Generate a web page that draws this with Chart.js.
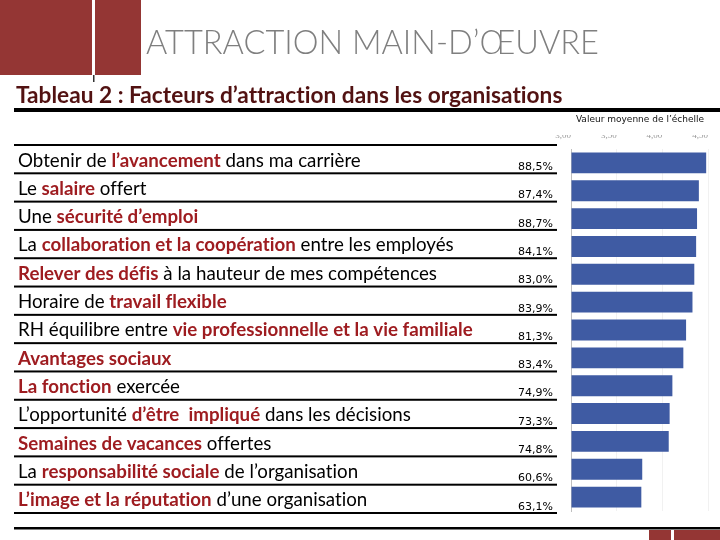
<!DOCTYPE html>
<html><head><meta charset="utf-8">
<script src="https://cdn.jsdelivr.net/npm/chart.js@4"></script>
<style>html,body{margin:0;padding:0;background:#fff;}#wrap{position:relative;width:720px;height:540px;}</style>
</head><body><div id="wrap"><canvas id="c"></canvas></div>
<script>
const pageTitle = "ATTRACTION MAIN-D’ŒUVRE";
const tableTitle = "Tableau 2 : Facteurs d’attraction dans les organisations";
const scaleTitle = "Valeur moyenne de l’échelle";
// label segments: [text, emphasised]
const categoryParts = [
  [["Obtenir de ",0],["l’avancement",1],[" dans ma carrière",0]],
  [["Le ",0],["salaire",1],[" offert",0]],
  [["Une ",0],["sécurité d’emploi",1]],
  [["La ",0],["collaboration et la coopération",1],[" entre les employés",0]],
  [["Relever des défis",1],[" à la hauteur de mes compétences",0]],
  [["Horaire de ",0],["travail flexible",1]],
  [["RH équilibre entre ",0],["vie professionnelle et la vie familiale",1]],
  [["Avantages sociaux",1]],
  [["La fonction",1],[" exercée",0]],
  [["L’opportunité ",0],["d’être  impliqué",1],[" dans les décisions",0]],
  [["Semaines de vacances",1],[" offertes",0]],
  [["La ",0],["responsabilité sociale",1],[" de l’organisation",0]],
  [["L’image et la réputation",1],[" d’une organisation",0]]
];
const categories = categoryParts.map(p => p.map(s => s[0]).join(""));
const meanValues = [4.48, 4.40, 4.38, 4.37, 4.35, 4.33, 4.26, 4.23, 4.11, 4.08, 4.07, 3.78, 3.77];
const percentLabels = ["88,5%","87,4%","88,7%","84,1%","83,0%","83,9%","81,3%","83,4%","74,9%","73,3%","74,8%","60,6%","63,1%"];
const tickValues = [3, 3.5, 4, 4.5];
const tickLabels = ["3,00","3,50","4,00","4,50"];

const RED = "#943634";
const EMPH = "#9e1c20";

function fitSize(ctx, text, weight, family, target, base){
  ctx.font = weight + " " + base + "px " + family;
  return base * target / ctx.measureText(text).width;
}

const tablePlugin = {
  id: "table",
  beforeDraw(chart){
    const ctx = chart.ctx, ca = chart.chartArea;
    ctx.save();
    if ("letterSpacing" in ctx) ctx.letterSpacing = "0.01px";
    ctx.fillStyle = "#fff"; ctx.fillRect(0,0,chart.width,chart.height);
    // decorative blocks
    ctx.fillStyle = RED;
    ctx.fillRect(0,0,92,75); ctx.fillRect(95,0,46,75);
    ctx.fillRect(649,530,22,10); ctx.fillRect(674,530,46,10);
    ctx.fillStyle = "#333"; ctx.fillRect(93,75,1.5,7);
    // page title
    let s = fitSize(ctx, pageTitle, "300", "Lato", 453, 30);
    ctx.font = "300 " + s + "px Lato"; ctx.fillStyle = "#7f7f7f";
    ctx.textBaseline = "alphabetic"; ctx.textAlign = "left";
    ctx.fillText(pageTitle, 146, 54);
    // table title
    s = fitSize(ctx, tableTitle, "bold", "Lato", 547, 20);
    ctx.font = "bold " + s + "px Lato"; ctx.fillStyle = "#521212";
    ctx.fillText(tableTitle, 16, 103);
    ctx.fillStyle = "#000"; ctx.fillRect(14,108,706,4);
    // scale title
    ctx.font = "9px 'DejaVu Sans'"; ctx.textAlign = "center"; ctx.fillStyle = "#111";
    ctx.fillText(scaleTitle, 640, 122);
    // rows
    const n = categoryParts.length;
    const top = ca.top - 4, bottom = ca.bottom + 2;
    const pitch = (bottom - top) / n;
    let longest = 0;
    categoryParts.forEach(p=>{ let w=0; p.forEach(sg=>{ctx.font=(sg[1]?"bold ":"")+"17px Lato"; w+=ctx.measureText(sg[0]).width;}); if(w>longest){longest=w;} });
    const ls = 17 * 455 / longest;
    ctx.fillStyle = "#000";
    for(let k=0;k<=n;k++){ ctx.fillRect(14, top + k*pitch - 1, 543, 2); }
    ctx.fillRect(14, 527, 706, 2.5);
    ctx.textAlign = "left";
    categoryParts.forEach((p,i)=>{
      let x = 18; const yb = top + i*pitch + 21.5;
      p.forEach(sg=>{
        ctx.font = (sg[1]?"bold ":"") + ls + "px Lato";
        ctx.fillStyle = sg[1] ? EMPH : "#000";
        ctx.fillText(sg[0], x, yb);
        x += ctx.measureText(sg[0]).width;
      });
      ctx.font = "11px 'DejaVu Sans'"; ctx.fillStyle = "#000"; ctx.textAlign = "right";
      ctx.fillText(percentLabels[i], 553, top + i*pitch + 25);
      ctx.textAlign = "left";
    });
    ctx.restore();
  }
};

new Chart(document.getElementById("c"), {
  type: "bar",
  data: { labels: categories, datasets: [{ data: meanValues, base: 3, backgroundColor: "#3f5ba3", borderWidth: 0, barPercentage: 0.75, categoryPercentage: 1 }] },
  options: {
    indexAxis: "y", responsive: true, maintainAspectRatio: false, animation: false,
    layout: { padding: { left: 571, right: 12, top: 135, bottom: 29 } },
    plugins: { legend: { display: false }, tooltip: { enabled: false } },
    scales: {
      x: {
        position: "top", min: 3, max: 4.5,
        afterBuildTicks: sc => { sc.ticks = tickValues.map(v => ({ value: v })); },
        ticks: { callback: (v, i) => tickLabels[i], align: "end", padding: 8, font: { family: "Liberation Serif", size: 9 }, color: "#9a9a9a", maxRotation: 0, autoSkip: false },
        grid: { color: "#f1f1f1", drawTicks: false },
        border: { display: false },
        afterFit: sc => { sc.height = 14; }
      },
      y: {
        ticks: { display: false },
        grid: { display: false, drawTicks: false },
        border: { display: true, color: "#bfbfbf", width: 1 },
        afterFit: sc => { sc.width = 0; }
      }
    }
  },
  plugins: [tablePlugin]
});
</script>
</body></html>
